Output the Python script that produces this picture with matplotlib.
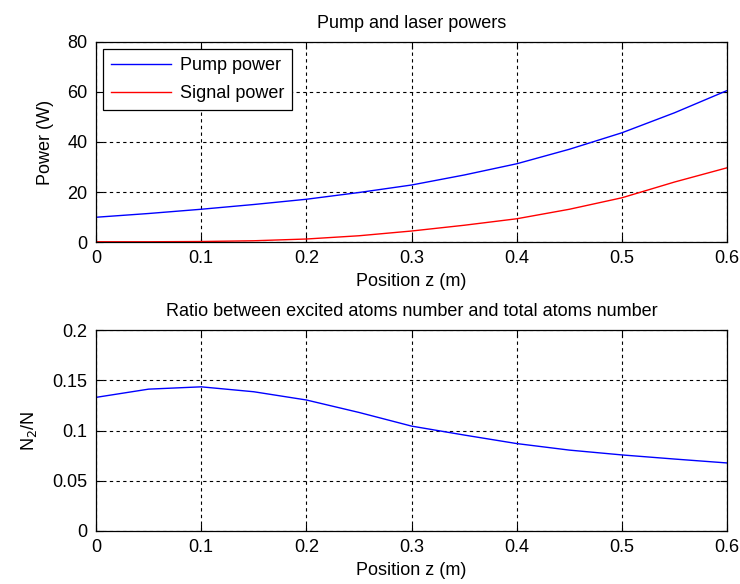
import matplotlib
matplotlib.use("Agg")
import matplotlib.pyplot as plt

# position along the fibre (m)
z = [0.0, 0.05, 0.1, 0.15, 0.2, 0.25, 0.3, 0.35, 0.4, 0.45, 0.5, 0.55, 0.6]
pump_power = [9.9, 11.4, 13.1, 15.0, 17.1, 19.8, 22.8, 26.8, 31.3, 37.1, 43.7, 51.7, 60.6]
signal_power = [0.1, 0.1, 0.2, 0.5, 1.2, 2.5, 4.4, 6.7, 9.3, 13.1, 17.7, 24.0, 29.7]
ratio_n2 = [0.1330, 0.1412, 0.1435, 0.1386, 0.1304, 0.1180, 0.1044, 0.0955, 0.0870,
            0.0805, 0.0757, 0.0716, 0.0677]

plt.rcParams["font.family"] = ["Liberation Sans", "DejaVu Sans"]
plt.rcParams["font.size"] = 13

fig = plt.figure(figsize=(7.4, 5.84), dpi=100)
ax1 = fig.add_axes([0.1297, 0.5856, 0.853, 0.3425])
ax2 = fig.add_axes([0.1297, 0.0908, 0.853, 0.344])


def matlab_style(ax):
    ax.grid(True, color="black", linestyle=(0, (3, 3)), linewidth=0.8)
    ax.tick_params(direction="in", top=True, right=True, length=5, width=0.8, pad=6)
    for s in ax.spines.values():
        s.set_linewidth(0.9)
    ax.set_xlim(0, 0.6)
    ax.set_xticks([0, 0.1, 0.2, 0.3, 0.4, 0.5, 0.6])
    ax.set_xticklabels(["0", "0.1", "0.2", "0.3", "0.4", "0.5", "0.6"])
    ax.set_xlabel("Position z (m)", labelpad=4)


ax1.plot(z, pump_power, color="blue", linewidth=1, label="Pump power")
ax1.plot(z, signal_power, color="red", linewidth=1, label="Signal power")
matlab_style(ax1)
ax1.set_ylim(0, 80)
ax1.set_yticks([0, 20, 40, 60, 80])
ax1.set_ylabel("Power (W)", labelpad=10)
ax1.set_title("Pump and laser powers", fontsize=13, pad=10)
leg = ax1.legend(loc="upper left", fancybox=False, edgecolor="black", framealpha=1,
                 borderaxespad=0.4, handlelength=3.3, handletextpad=0.5, fontsize=13,
                 borderpad=0.45, labelspacing=0.6)
leg.get_frame().set_linewidth(0.9)

ax2.plot(z, ratio_n2, color="blue", linewidth=1)
matlab_style(ax2)
ax2.set_ylim(0, 0.2)
ax2.set_yticks([0, 0.05, 0.1, 0.15, 0.2])
ax2.set_yticklabels(["0", "0.05", "0.1", "0.15", "0.2"])
ax2.set_ylabel("N$_2$/N", labelpad=10)
ax2.set_title("Ratio between excited atoms number and total atoms number",
              fontsize=13, pad=10)

fig.savefig("out.png", dpi=100)
